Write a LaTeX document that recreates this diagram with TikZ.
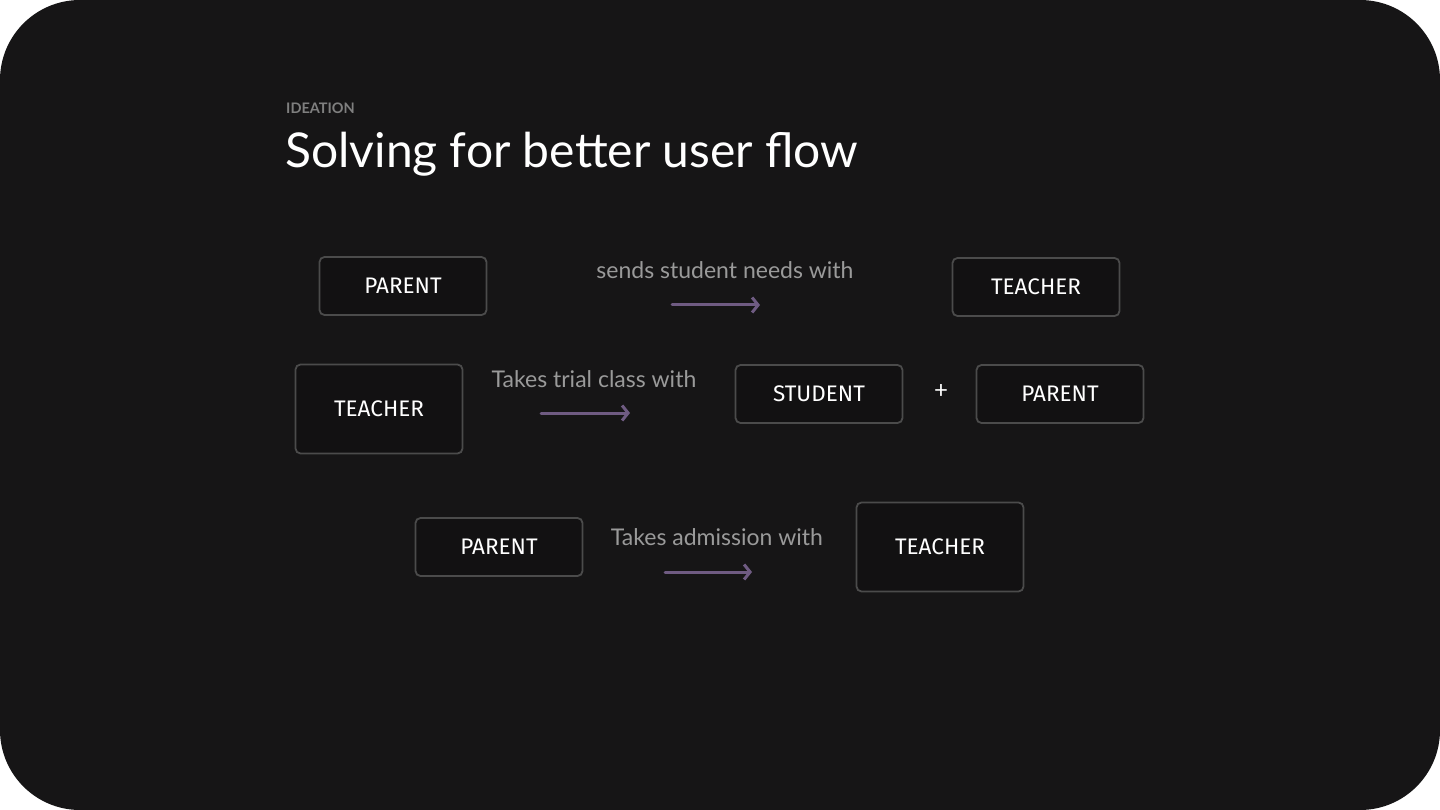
\documentclass[tikz,border=0pt]{standalone}
\usepackage{fontspec}
\setmainfont{Lato}
\newfontfamily\handfont{Fira Sans}
\usepackage{tikz}
\usetikzlibrary{positioning}
\usetikzlibrary{arrows.meta}

\definecolor{cardbg}{HTML}{161516}
\definecolor{boxbg}{HTML}{121112}
\definecolor{boxline}{HTML}{4B4B4B}
\definecolor{arrowcol}{HTML}{6F5B82}
\definecolor{relgray}{HTML}{9A9A9A}
\definecolor{kickgray}{HTML}{7F7F7F}

\begin{document}
\begin{tikzpicture}[x=1pt, y=-1pt,
					rolebox/.style={draw=boxline, line width=1.8pt, fill=boxbg, rounded corners=5pt,
						minimum width=167pt, minimum height=58pt, text=white,
						font=\handfont\fontsize{22.5}{26}\selectfont},
					tallbox/.style={rolebox, minimum height=89pt},
					reltext/.style={anchor=base, text=relgray, font=\fontsize{23}{27}\selectfont},
					relarrow/.style={draw=arrowcol, line width=3pt, line cap=round, -{Straight Barb[length=6pt,width=15pt]}},
					]
					\useasboundingbox (0,0) rectangle (1440,810);
					\fill[white] (0,0) rectangle (1440,810);
					\fill[cardbg, rounded corners=80pt] (0,0) rectangle (1440,810);

					%Heading
					\node[anchor=base west, text=kickgray, inner sep=0pt, font=\fontsize{14.5}{18}\selectfont\bfseries] (kicker) at (286,114) {IDEATION};
					\node[anchor=base west, text=white, inner sep=0pt, font=\fontsize{48}{56}\selectfont] (title) at (285,168) {Solving for better user flow};

					%Nodes
					\node[rolebox]      (p1)    at  (403,286)    {PARENT};
					\node[rolebox]      (t1)    at  (1036,287)   {TEACHER};
					\node[tallbox]      (t2)    at  (379,409)    {TEACHER};
					\node[rolebox]      (s2)    at  (819,394)    {STUDENT};
					\node[rolebox]      (p2)    at  (1060,394)   {PARENT};
					\node[rolebox]      (p3)    at  (499,547)    {PARENT};
					\node[tallbox]      (t3)    at  (940,547)    {TEACHER};
					\node[text=white, font=\fontsize{24}{28}\selectfont] (plus) at (941,392) {+};

					%Labels
					\node[reltext]      (r1)    at  (725,279)    {sends student needs with};
					\node[reltext]      (r2)    at  (594,387)    {Takes trial class with};
					\node[reltext]      (r3)    at  (717,545)    {Takes admission with};

					\coordinate (a1s) at (672,305);
					\coordinate (a1e) at (760,305);
					\coordinate (a2s) at (541,413);
					\coordinate (a2e) at (630,413);
					\coordinate (a3s) at (665,572);
					\coordinate (a3e) at (752,572);

					%Lines
					\draw[relarrow] (a1s) -- (a1e);
					\draw[relarrow] (a2s) -- (a2e);
					\draw[relarrow] (a3s) -- (a3e);
				\end{tikzpicture}
\end{document}
